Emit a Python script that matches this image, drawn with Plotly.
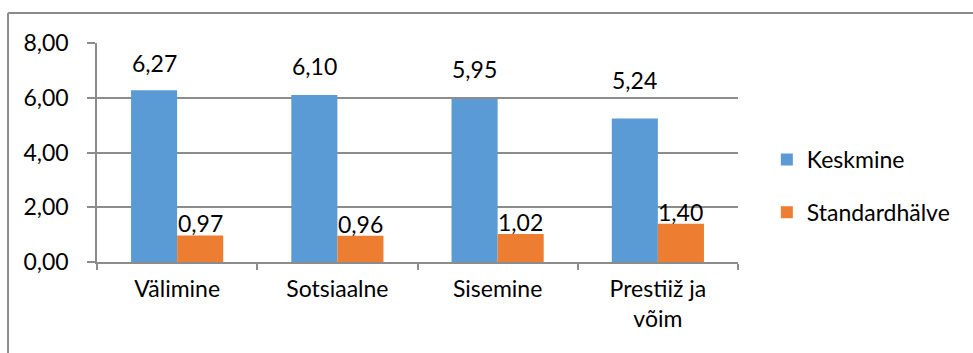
import plotly.graph_objects as go

categories = ["Välimine", "Sotsiaalne", "Sisemine", "Prestiiž ja<br>võim"]
keskmine = [6.27, 6.10, 5.95, 5.24]
standardhalve = [0.97, 0.96, 1.02, 1.40]
series_names = ["Keskmine", "Standardhälve"]
y_ticks = [0, 2, 4, 6, 8]

BLUE = "#5B9BD5"
ORANGE = "#ED7D31"
GRID = "#8C8C8C"
FONT = "Lato"
FSIZE = 23

# vertical offsets (px) of the mean labels above their bars
mean_label_lift = [11, 13, 14, 23]

fig = go.Figure()
fig.add_trace(go.Bar(x=categories, y=keskmine, name=series_names[0],
                     marker=dict(color=BLUE, line=dict(width=0)),
                     legendgroup="a"))
fig.add_trace(go.Bar(x=categories, y=standardhalve, name=series_names[1],
                     marker=dict(color=ORANGE, line=dict(width=0)),
                     legendgroup="b"))

def fmt(v):
    return f"{v:.2f}".replace(".", ",")

# value labels above each bar
for c, v, lift in zip(categories, keskmine, mean_label_lift):
    fig.add_annotation(x=c, y=v, text=fmt(v), showarrow=False, xshift=-23,
                       yanchor="bottom", yshift=lift,
                       font=dict(family=FONT, size=FSIZE, color="#000"))
for c, v in zip(categories, standardhalve):
    fig.add_annotation(x=c, y=v, text=fmt(v), showarrow=False, xshift=23,
                       yanchor="bottom", yshift=-4,
                       font=dict(family=FONT, size=FSIZE, color="#000"))

# outer frame (left and top edges)
fig.add_shape(type="line", xref="paper", yref="paper", x0=-0.1388, x1=-0.1388,
              y0=-0.5, y1=1.137, line=dict(color="#8C8C8C", width=2))
fig.add_shape(type="line", xref="paper", yref="paper", x0=-0.1388, x1=1.5,
              y0=1.137, y1=1.137, line=dict(color="#8C8C8C", width=2))

fig.update_layout(
    width=973, height=353,
    margin=dict(l=97, r=235, t=43, b=91),
    paper_bgcolor="white", plot_bgcolor="white",
    barmode="group", bargap=0.425, bargroupgap=0,
    separators=",.",
    font=dict(family=FONT, size=FSIZE, color="#000"),
    showlegend=True,
    legend=dict(x=1.045, y=0.347, xanchor="left", yanchor="middle",
                tracegroupgap=20, font=dict(family=FONT, size=FSIZE),
                itemwidth=30, bgcolor="rgba(0,0,0,0)"),
    xaxis=dict(showline=True, linecolor=GRID, linewidth=1.5,
               ticks="outside", ticklen=6, tickcolor=GRID, tickwidth=1.5,
               tickson="boundaries", showgrid=False, ticklabelstandoff=6),
    yaxis=dict(range=[0, 8], tickvals=y_ticks, tickformat=".2f",
               showgrid=True, gridcolor=GRID, gridwidth=1.5,
               showline=True, linecolor=GRID, linewidth=1.5,
               ticks="outside", ticklen=8, tickcolor=GRID, tickwidth=1.5,
               zeroline=False, ticklabelstandoff=14),
)

fig.write_html("out.html")
